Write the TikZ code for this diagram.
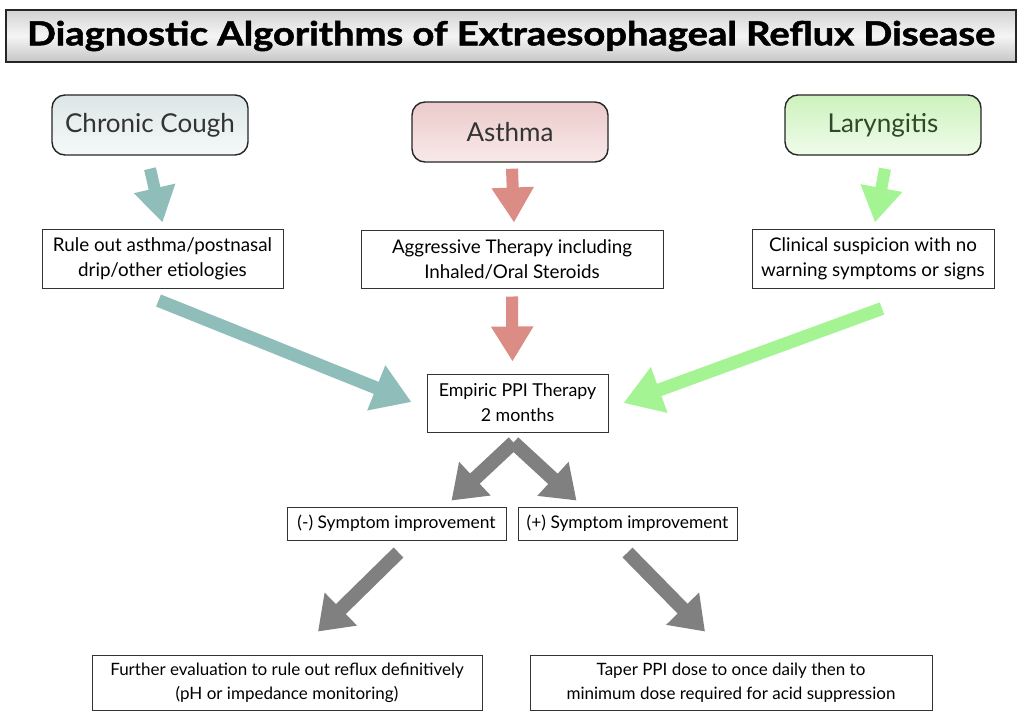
\documentclass[tikz,border=0pt]{standalone}
\usepackage{fontspec}
\setmainfont{Lato}
\usetikzlibrary{arrows.meta,calc}
\definecolor{teal1}{HTML}{8FBDBA}
\definecolor{pink1}{HTML}{DB8C84}
\definecolor{green1}{HTML}{A4F493}
\definecolor{gray1}{HTML}{808080}
\definecolor{coughtop}{HTML}{DCE6E6}
\definecolor{coughbot}{HTML}{F6F9F9}
\definecolor{asthtop}{HTML}{EBCACA}
\definecolor{asthbot}{HTML}{F9E9E9}
\definecolor{larytop}{HTML}{CDF2BD}
\definecolor{larybot}{HTML}{F0FCEB}
\definecolor{larytext}{HTML}{2E4A2A}
\tikzset{
  topbox/.style={draw=black!85, line width=1.4pt, rounded corners=13pt, minimum width=196pt, minimum height=60pt, font=\fontsize{26}{28}\selectfont, text=black!80},
  infobox/.style={draw=black!80, line width=1pt, fill=white, align=center, font=\fontsize{18.8}{25}\selectfont, inner sep=0pt},
  smallbox/.style={draw=black!80, line width=1pt, fill=white, align=center, font=\fontsize{17.4}{22}\selectfont, inner sep=0pt},
  fat/.style={line width=12pt, -{Triangle[length=35pt,width=40pt]}},
  diag/.style={line width=13pt, -{Triangle[length=38pt,width=46pt]}},
  gfat/.style={line width=14pt, draw=gray1, -{Triangle[length=32pt,width=44pt]}}
}
\begin{document}
\begin{tikzpicture}[x=1pt,y=-1pt]
\useasboundingbox (0,0) rectangle (1024,724);
\fill[white] (0,0) rectangle (1024,724);
% title
\node[draw=black!85, line width=2pt, top color=gray!35, bottom color=gray!45, middle color=gray!8, minimum width=1010pt, minimum height=52pt, inner sep=0pt] (title) at (511,36)
  {\resizebox{968pt}{\height}{\fontsize{33}{35}\selectfont\bfseries\addfontfeatures{FakeBold=1.5}Diagnostic Algorithms of Extraesophageal Reflux Disease}};
% top boxes
\node[topbox, top color=coughtop, bottom color=coughbot] (cough) at (150,125) {Chronic Cough};
\node[topbox, top color=asthtop, bottom color=asthbot] (asthma) at (510,132) {Asthma};
\node[topbox, top color=larytop, bottom color=larybot, text=larytext] (laryn) at (883,125) {Laryngitis};
% second row
\node[infobox, minimum width=241pt, minimum height=59pt] (b1) at (162.5,258.5) {Rule out asthma/postnasal\\drip/other etiologies};
\node[infobox, minimum width=302pt, minimum height=58pt] (b2) at (512,259) {Aggressive Therapy including\\Inhaled/Oral Steroids};
\node[infobox, minimum width=242pt, minimum height=59pt] (b3) at (873,258.5) {Clinical suspicion with no\\warning symptoms or signs};
% empiric
\node[infobox, font=\fontsize{17.8}{25}\selectfont, minimum width=181pt, minimum height=58pt] (emp) at (517.5,403) {Empiric PPI Therapy\\2 months};
% improvement
\node[smallbox, minimum width=219pt, minimum height=33pt] (neg) at (396.5,523.5) {(-) Symptom improvement};
\node[smallbox, minimum width=219pt, minimum height=33pt] (pos) at (627.5,523.5) {(+) Symptom improvement};
% bottom
\node[smallbox, font=\fontsize{17}{24}\selectfont, minimum width=390pt, minimum height=55pt] (f1) at (287,682.5) {Further evaluation to rule out reflux definitively\\(pH or impedance monitoring)};
\node[smallbox, font=\fontsize{17}{24}\selectfont, minimum width=402pt, minimum height=55pt] (f2) at (731,682.5) {Taper PPI dose to once daily then to\\minimum dose required for acid suppression};
% arrows
\draw[fat, teal1] ([shift={(0,13)}]cough.south) -- ([shift={(0,-6)}]b1.north);
\draw[fat, pink1] ([shift={(2,6)}]asthma.south) -- ([shift={(2,-7)}]b2.north);
\draw[fat, green1] ([shift={(2,13)}]laryn.south) -- ([shift={(2,-6)}]b3.north);
\draw[fat, pink1] ([shift={(0,8)}]b2.south) -- ([shift={(-5,-12)}]emp.north);
\draw[diag, teal1] ([shift={(-4,12)}]b1.south) -- ([shift={(-15,-1)}]emp.west);
\draw[diag, green1] ([shift={(9,20)}]b3.south) -- ([shift={(15,0)}]emp.east);
\draw[gfat] ([shift={(-4,10)}]emp.south) -- ([shift={(55,-6)}]neg.north);
\draw[gfat] ([shift={(-4,10)}]emp.south) -- ([shift={(-51,-6)}]pos.north);
\draw[gfat] ([shift={(2,12)}]neg.south) -- ([shift={(31,-23)}]f1.north);
\draw[gfat] ([shift={(0,12)}]pos.south) -- ([shift={(-26,-23)}]f2.north);
\end{tikzpicture}
\end{document}
